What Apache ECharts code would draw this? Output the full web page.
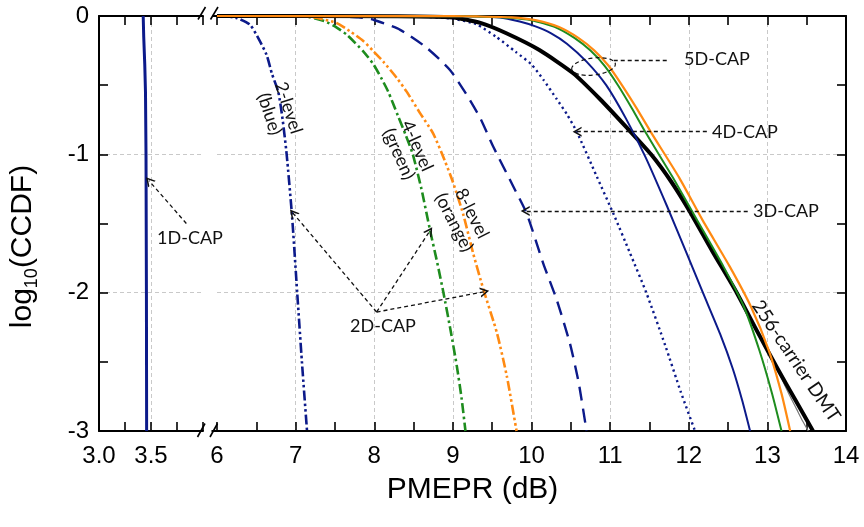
<!DOCTYPE html>
<html><head><meta charset="utf-8">
<script src="https://cdn.jsdelivr.net/npm/echarts@6/dist/echarts.min.js"></script>
<style>html,body{margin:0;padding:0;background:#fff}#c{width:864px;height:527px}</style>
</head><body><div id="c"></div>
<script>
// ---- data: [PMEPR (dB), log10(CCDF)] ----
const cap1D = [[3.425,0],[3.43,-0.15],[3.44,-0.35],[3.447,-0.55],[3.452,-1.0],[3.456,-2.0],[3.458,-3.0]];
const cap2D_2level = [[6.0,0],[6.12,-0.003],[6.25,-0.014],[6.42,-0.063],[6.525,-0.16],[6.63,-0.28],[6.7,-0.42],[6.78,-0.55],[6.835,-0.75],[6.886,-1.0],[6.955,-1.45],[7.02,-2.0],[7.08,-2.5],[7.145,-3.0]];
const cap2D_4level = [[6.0,0],[7.0,-0.001],[7.18,-0.009],[7.37,-0.038],[7.5,-0.075],[7.65,-0.135],[7.86,-0.255],[7.99,-0.35],[8.1,-0.46],[8.18,-0.55],[8.3,-0.72],[8.4,-0.86],[8.49,-1.0],[8.6,-1.25],[8.71,-1.55],[8.8,-1.78],[8.88,-2.0],[8.97,-2.27],[9.05,-2.53],[9.11,-2.76],[9.16,-3.0]];
const cap2D_8level = [[6.0,0],[7.0,-0.001],[7.225,-0.009],[7.52,-0.05],[7.69,-0.11],[7.86,-0.18],[7.99,-0.255],[8.115,-0.33],[8.29,-0.45],[8.41,-0.545],[8.58,-0.7],[8.75,-0.85],[8.9,-1.05],[9.0,-1.2],[9.13,-1.43],[9.26,-1.72],[9.39,-1.98],[9.56,-2.29],[9.685,-2.6],[9.81,-3.0]];
const cap3D = [[6.0,0],[7.5,-0.002],[7.8,-0.01],[7.99,-0.027],[8.33,-0.1],[8.667,-0.23],[8.963,-0.39],[9.176,-0.57],[9.35,-0.74],[9.514,-0.945],[9.77,-1.234],[9.94,-1.43],[10.15,-1.79],[10.32,-2.05],[10.49,-2.37],[10.6,-2.65],[10.7,-3.0]];
const cap4D = [[6.0,0],[8.5,-0.002],[9.0,-0.02],[9.3,-0.06],[9.55,-0.15],[9.8,-0.26],[10.0,-0.35],[10.15,-0.46],[10.32,-0.6],[10.45,-0.71],[10.575,-0.836],[10.83,-1.16],[11.05,-1.44],[11.25,-1.71],[11.46,-2.0],[11.7,-2.38],[11.9,-2.72],[12.08,-3.0]];
const cap5D_blue = [[6.0,0],[9.0,-0.001],[9.6,-0.01],[9.85,-0.04],[10.05,-0.075],[10.25,-0.125],[10.45,-0.2],[10.7,-0.33],[10.95,-0.5],[11.2,-0.74],[11.45,-1.02],[11.72,-1.37],[11.97,-1.71],[12.18,-2.0],[12.4,-2.3],[12.56,-2.55],[12.68,-2.78],[12.78,-3.0]];
const cap5D_green = [[6.0,0],[9.0,-0.001],[9.3,-0.004],[9.7,-0.012],[10.0,-0.03],[10.3,-0.08],[10.55,-0.16],[10.75,-0.25],[10.93,-0.36],[11.1,-0.5],[11.28,-0.67],[11.46,-0.85],[11.8,-1.17],[12.1,-1.47],[12.44,-1.81],[12.7,-2.1],[12.9,-2.42],[13.06,-2.73],[13.18,-3.0]];
const cap5D_orange = [[6.0,0],[9.0,-0.001],[9.3,-0.003],[9.75,-0.01],[10.05,-0.03],[10.35,-0.08],[10.6,-0.16],[10.8,-0.25],[10.98,-0.36],[11.15,-0.5],[11.34,-0.67],[11.53,-0.85],[11.88,-1.17],[12.17,-1.47],[12.52,-1.81],[12.79,-2.1],[13.02,-2.42],[13.18,-2.73],[13.29,-3.0]];
const dmt256 = [[6.0,0],[8.3,-0.001],[9.0,-0.01],[9.35,-0.05],[9.68,-0.125],[10.1,-0.246],[10.53,-0.414],[10.87,-0.6],[11.2,-0.8],[11.52,-1.0],[11.78,-1.2],[12.0,-1.4],[12.3,-1.7],[12.61,-2.0],[12.89,-2.3],[13.13,-2.55],[13.36,-2.78],[13.58,-3.0]];
const dmt256_thin = [[12.3,-1.7],[12.61,-2.0],[12.89,-2.3],[13.03,-2.45],[13.18,-2.62],[13.28,-2.74],[13.37,-2.84],[13.45,-2.93],[13.52,-3.0]];

// tick labels
const xLabelsLeft = [3.0, 3.5];
const xRangeLeft = [3, 4];
const xRangeRight = [6, 14];
const yRange = [-3, 0];

// annotation arrows [from, to] in data units
const arrow1D = [[[3.84,-1.5],[3.48,-1.19]]];
const arrows2D = [[[8.03,-2.14],[6.965,-1.424]],[[8.03,-2.14],[8.706,-1.555]],[[8.03,-2.14],[9.405,-1.993]]];
const arrow3D = [[[12.75,-1.41],[9.92,-1.41]]];
const arrow4D = [[[12.23,-0.836],[10.58,-0.836]]];
const line5D = [[[11.72,-0.318],[11.03,-0.318]]];

const NAVY = '#0c1a8a', GREEN = '#1e8c1e', ORANGE = '#ff8a12';
const GRIDC = '#c9c9c9';
const LABFONT = 'Liberation Sans';
const ANNFONT = 'Lato';

function xAx(gi, rng, interval, pos, labels) {
  return {
    type:'value', gridIndex:gi, min:rng[0], max:rng[1], interval, position:pos,
    axisLine:{show:true, onZero:false, lineStyle:{color:'#000', width:2}},
    axisTick:{show:true, inside:true, length:9, lineStyle:{color:'#000', width:1.6}},
    minorTick:{show:true, splitNumber:2, length:9, lineStyle:{color:'#000', width:1.6}},
    axisLabel:{show:!!labels, margin:13, color:'#000', fontSize:24, fontFamily:LABFONT,
      formatter: labels || (v => v)},
    splitLine:{show:pos==='bottom', showMinLine:false, showMaxLine:false, lineStyle:{color:GRIDC, width:1, type:[4,3]}},
    minorSplitLine:{show:false}
  };
}
function yAx(gi, pos, labels) {
  return {
    type:'value', gridIndex:gi, min:yRange[0], max:yRange[1], interval:1, position:pos,
    axisLine:{show:true, onZero:false, lineStyle:{color:'#000', width:2}},
    axisTick:{show:true, inside:true, length:9, lineStyle:{color:'#000', width:1.6}},
    minorTick:{show:true, splitNumber:2, length:9, lineStyle:{color:'#000', width:1.6}},
    axisLabel:{show:labels, margin:10, color:'#000', fontSize:24, fontFamily:LABFONT},
    splitLine:{show:true, showMinLine:false, showMaxLine:false, lineStyle:{color:GRIDC, width:1, type:[4,3]}},
    minorSplitLine:{show:false}
  };
}
const CHEV = 'path://M0,10 L5,0 L10,10 L8.3,10 L5,3.4 L1.7,10 Z';
function mk(pairs, head) {
  return {silent:true, animation:false, symbol: head ? ['none', CHEV] : ['none','none'],
    symbolSize:[10,9], label:{show:false}, emphasis:{disabled:true},
    lineStyle:{color:'#111', width:1.3, type:[4,3]},
    data: pairs.map(p => [{coord:p[0]}, {coord:p[1]}])};
}
function ser(name, data, color, width, dash, xi, yi, extra) {
  return Object.assign({name, type:'line', xAxisIndex:xi, yAxisIndex:yi, data,
    showSymbol:false, symbol:'none', smooth:0.2, silent:true, animation:false,
    lineStyle:{color, width, type:dash || 'solid', cap:'butt', join:'round'}}, extra || {});
}

const chart = echarts.init(document.getElementById('c'), null, {renderer:'canvas'});
const text = (t, x, y, rot, size) => ({type:'text', x, y, rotation:rot||0, z:100, silent:true,
  style:{text:t, x:0, y:0, align:'center', verticalAlign:'middle', fill:'#111',
    font:(size||18) + 'px ' + ANNFONT, lineHeight:20}});
const seg = (x1,y1,x2,y2,w) => ({type:'line', z:100, silent:true, shape:{x1,y1,x2,y2}, style:{stroke:'#000', lineWidth:w||2}});

chart.setOption({
  backgroundColor:'#fff',
  animation:false,
  grid:[
    {left:99, top:16, width:104, height:415, containLabel:false, outerBoundsMode:'none'},
    {left:217, top:16, width:629, height:415, containLabel:false, outerBoundsMode:'none'}
  ],
  xAxis:[
    xAx(0, xRangeLeft, 0.5, 'bottom', v => xLabelsLeft.includes(v) ? v.toFixed(1) : ''),
    xAx(0, xRangeLeft, 0.5, 'top', null),
    Object.assign(xAx(1, xRangeRight, 1, 'bottom', v => String(v)), {
      name:'PMEPR (dB)', nameLocation:'middle', nameGap:44, nameMoveOverlap:false,
      nameTextStyle:{fontSize:30, fontFamily:LABFONT, color:'#000', padding:[0,118,0,0]}
    }),
    xAx(1, xRangeRight, 1, 'top', null)
  ],
  yAxis:[
    Object.assign(yAx(0, 'left', true), {
      name:'{a|log}{s|10}{a|(CCDF)}', nameLocation:'middle', nameGap:58, nameRotate:90, nameMoveOverlap:false,
      nameTextStyle:{color:'#000', padding:[0,46,0,0],
        rich:{a:{fontSize:30, fontFamily:LABFONT, color:'#000', lineHeight:36},
              s:{fontSize:18, fontFamily:LABFONT, color:'#000', lineHeight:16, verticalAlign:'bottom'}}}
    }),
    yAx(1, 'right', false)
  ],
  series:[
    ser('1D-CAP', cap1D, NAVY, 3, null, 0, 0, {smooth:false, markLine:mk(arrow1D, true)}),
    ser('2D-CAP 2-level', cap2D_2level, NAVY, 2.6, [10,3,2.5,3,2.5,3], 2, 1, {markLine:mk(arrows2D, true)}),
    ser('2D-CAP 4-level', cap2D_4level, GREEN, 2.6, [10,3.5,2.5,3.5], 2, 1),
    ser('2D-CAP 8-level', cap2D_8level, ORANGE, 2.6, [10,3,2.5,3,2.5,3], 2, 1),
    ser('3D-CAP', cap3D, NAVY, 2.4, [14,8], 2, 1, {markLine:mk(arrow3D, true)}),
    ser('4D-CAP', cap4D, NAVY, 2.4, [2.2,3.4], 2, 1, {markLine:mk(arrow4D, true)}),
    ser('256-carrier DMT (thin)', dmt256_thin, '#777', 1.2, null, 2, 1),
    ser('256-carrier DMT', dmt256, '#000', 4, null, 2, 1),
    ser('5D-CAP blue', cap5D_blue, NAVY, 2, null, 2, 1, {markLine:mk(line5D, false)}),
    ser('5D-CAP green', cap5D_green, GREEN, 2, null, 2, 1),
    ser('5D-CAP orange', cap5D_orange, ORANGE, 2.2, null, 2, 1)
  ],
  graphic:[
    // axis break marks
    seg(198,19.5,205.5,7,1.6), seg(210.5,19.5,218,7,1.6), seg(212,16,217,16,2),
    seg(197.5,437,205,423.5,1.6), seg(210,437,217.5,423.5,1.6), seg(211.5,431,217,431,2),
    text('1D-CAP', 190, 238.5, 0),
    text('2D-CAP', 383, 326, 0),
    text('3D-CAP', 786, 211, 0),
    text('4D-CAP', 745, 132, 0),
    text('5D-CAP', 717, 59, 0),
    text('2-level\n(blue)', 279, 111, -72*Math.PI/180),
    text('4-level\n(green)', 408, 150, -66*Math.PI/180),
    text('8-level\n(orange)', 463, 218, -63*Math.PI/180),
    text('256-carrier DMT', 796, 361, -56*Math.PI/180, 19),
    {type:'ellipse', z:100, silent:true, x:593.5, y:66.5, rotation:0.12,
      shape:{cx:0, cy:0, rx:22, ry:8.5}, style:{fill:'none', stroke:'#111', lineWidth:1.2, lineDash:[4,3]}}
  ]
});
</script></body></html>
